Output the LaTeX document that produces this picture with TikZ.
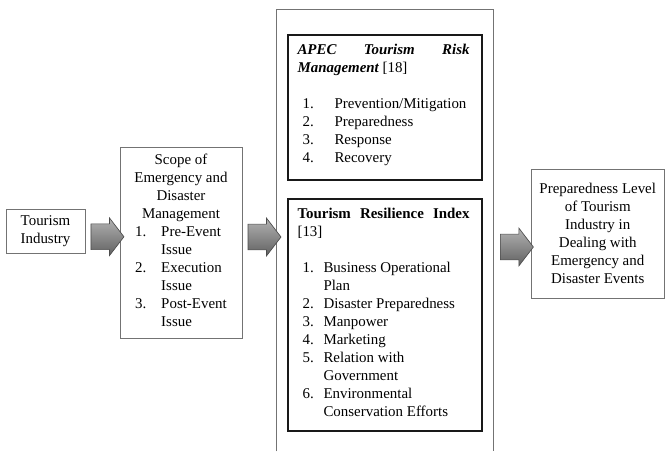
\documentclass[tikz,border=0pt]{standalone}
\usepackage{fontspec}
\setmainfont{Liberation Serif}
\usetikzlibrary{calc,shapes.arrows}

\newcommand{\numitem}[3]{\hspace*{3.75pt}\makebox[#1][l]{#2}#3}

\begin{document}
\begin{tikzpicture}[x=0.75pt,y=-0.75pt]
    \tikzstyle{every node}=[font=\fontsize{11.2}{13.5}\selectfont]
    \tikzstyle{thinbox}=[draw=black!55, line width=0.6pt, inner sep=0pt, align=center]
    \tikzstyle{heavybox}=[draw=black!90, line width=1.1pt, inner sep=0pt]
    \tikzstyle{inbox}=[inner sep=0pt, anchor=north west, text width=129pt, align=justify]
    \tikzstyle{blockarrow}=[single arrow, draw=black!70, line width=0.5pt, top color=black!30, bottom color=black!62, inner xsep=0pt, inner ysep=9.4pt, minimum height=24.75pt, single arrow head extend=4.5pt, single arrow tip angle=105]
    \useasboundingbox (0,0) rectangle (665,451);
    \node[thinbox, minimum width=59.25pt, minimum height=33pt] (tour) at (45.5,231) {Tourism\\Industry};
    \node[thinbox, minimum width=91.5pt, minimum height=143.25pt] (scope) at (181,242.5) {Scope of\\Emergency and\\Disaster\\Management\\
        \begin{tabular}[t]{@{}p{19.5pt}@{}l@{}}1.&Pre-Event\\&Issue\\2.&Execution\\&Issue\\3.&Post-Event\\&Issue\end{tabular}};
    % middle frame, open at the bottom
    \node[minimum width=162pt, minimum height=330.75pt, inner sep=0pt] (frame) at (385,230.5) {};
    \draw[draw=black!55, line width=0.6pt] (frame.south west) -- (frame.north west) -- (frame.north east) -- (frame.south east);
    \node[heavybox, minimum width=145.5pt, minimum height=108.75pt] (apec) at (385,107.5) {};
    \node[inbox] (apectxt) at ($(apec.north west)+(10,10)$) {\textbf{\textit{APEC Tourism Risk \mbox{Management}}} [18]\\[13.5pt]
        \numitem{24pt}{1.}{Prevention/Mitigation}\\
        \numitem{24pt}{2.}{Preparedness}\\
        \numitem{24pt}{3.}{Response}\\
        \numitem{24pt}{4.}{Recovery}};
    \node[heavybox, minimum width=145.5pt, minimum height=174pt] (tri) at (385,315) {};
    \node[inbox] (tritxt) at ($(tri.north west)+(10,10)$) {\textbf{Tourism Resilience Index} [13]\\[13.5pt]
        \numitem{15.75pt}{1.}{Business Operational}\\
        \numitem{15.75pt}{}{Plan}\\
        \numitem{15.75pt}{2.}{Disaster Preparedness}\\
        \numitem{15.75pt}{3.}{Manpower}\\
        \numitem{15.75pt}{4.}{Marketing}\\
        \numitem{15.75pt}{5.}{Relation with}\\
        \numitem{15.75pt}{}{Government}\\
        \numitem{15.75pt}{6.}{Environmental}\\
        \numitem{15.75pt}{}{Conservation Efforts}};
    \node[thinbox, minimum width=100.1pt, minimum height=96.75pt] (prep) at (597.75,233.5) {Preparedness Level\\of Tourism\\Industry in\\Dealing with\\Emergency and\\Disaster Events};
    % block arrows
    \node[blockarrow] (arr1) at ($(tour.east)!0.5!(scope.west)$) {};
    \node[blockarrow] (arr2) at ($(scope.east)!0.5!(scope.east -| frame.west)+(0,-5.5)$) {};
    \node[blockarrow] (arr3) at ($(frame.east |- prep.west)!0.5!(prep.west)+(0,13.5)$) {};
\end{tikzpicture}
\end{document}
